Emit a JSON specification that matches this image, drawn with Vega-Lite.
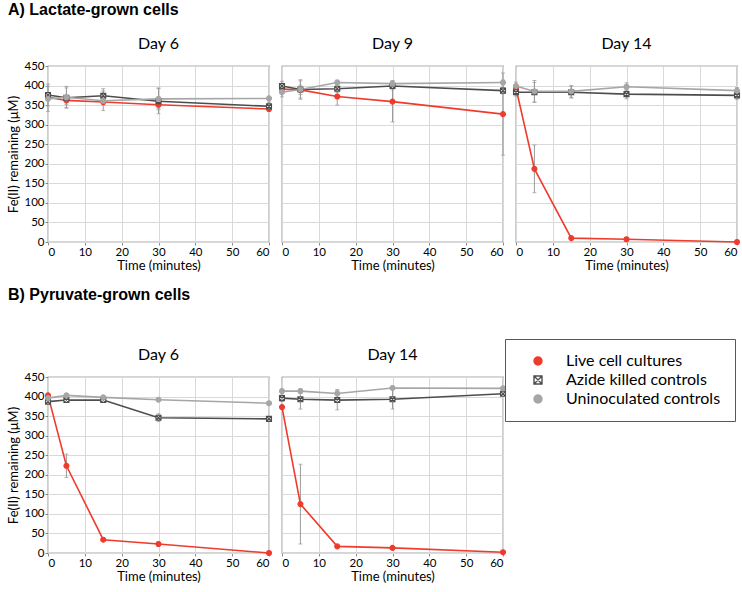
{
  "$schema": "https://vega.github.io/schema/vega-lite/v6.json",
  "padding": {"left": 7, "top": 2, "right": 1, "bottom": 2},
  "background": "white",
  "data": {"values": [
    {"cells":"Lactate","day":6,"series":"Live cell cultures","time":0,"value":370,"err":8},
    {"cells":"Lactate","day":6,"series":"Live cell cultures","time":5,"value":362,"err":10},
    {"cells":"Lactate","day":6,"series":"Live cell cultures","time":15,"value":358,"err":8},
    {"cells":"Lactate","day":6,"series":"Live cell cultures","time":30,"value":351,"err":10},
    {"cells":"Lactate","day":6,"series":"Live cell cultures","time":60,"value":340,"err":5},
    {"cells":"Lactate","day":6,"series":"Azide killed controls","time":0,"value":376,"err":28},
    {"cells":"Lactate","day":6,"series":"Azide killed controls","time":5,"value":369,"err":25},
    {"cells":"Lactate","day":6,"series":"Azide killed controls","time":15,"value":374,"err":18},
    {"cells":"Lactate","day":6,"series":"Azide killed controls","time":30,"value":360,"err":32},
    {"cells":"Lactate","day":6,"series":"Azide killed controls","time":60,"value":347,"err":10},
    {"cells":"Lactate","day":6,"series":"Uninoculated controls","time":0,"value":366,"err":32},
    {"cells":"Lactate","day":6,"series":"Uninoculated controls","time":5,"value":370,"err":28},
    {"cells":"Lactate","day":6,"series":"Uninoculated controls","time":15,"value":361,"err":25},
    {"cells":"Lactate","day":6,"series":"Uninoculated controls","time":30,"value":366,"err":28},
    {"cells":"Lactate","day":6,"series":"Uninoculated controls","time":60,"value":367,"err":6},
    {"cells":"Lactate","day":9,"series":"Live cell cultures","time":0,"value":391,"err":8},
    {"cells":"Lactate","day":9,"series":"Live cell cultures","time":5,"value":389,"err":12},
    {"cells":"Lactate","day":9,"series":"Live cell cultures","time":15,"value":372,"err":22},
    {"cells":"Lactate","day":9,"series":"Live cell cultures","time":30,"value":359,"err":52},
    {"cells":"Lactate","day":9,"series":"Live cell cultures","time":60,"value":327,"err":105},
    {"cells":"Lactate","day":9,"series":"Azide killed controls","time":0,"value":399,"err":12},
    {"cells":"Lactate","day":9,"series":"Azide killed controls","time":5,"value":390,"err":25},
    {"cells":"Lactate","day":9,"series":"Azide killed controls","time":15,"value":392,"err":10},
    {"cells":"Lactate","day":9,"series":"Azide killed controls","time":30,"value":399,"err":10},
    {"cells":"Lactate","day":9,"series":"Azide killed controls","time":60,"value":387,"err":8},
    {"cells":"Lactate","day":9,"series":"Uninoculated controls","time":0,"value":383,"err":12},
    {"cells":"Lactate","day":9,"series":"Uninoculated controls","time":5,"value":390,"err":22},
    {"cells":"Lactate","day":9,"series":"Uninoculated controls","time":15,"value":408,"err":6},
    {"cells":"Lactate","day":9,"series":"Uninoculated controls","time":30,"value":405,"err":8},
    {"cells":"Lactate","day":9,"series":"Uninoculated controls","time":60,"value":408,"err":6},
    {"cells":"Lactate","day":14,"series":"Live cell cultures","time":0,"value":393,"err":5},
    {"cells":"Lactate","day":14,"series":"Live cell cultures","time":5,"value":187,"err":61},
    {"cells":"Lactate","day":14,"series":"Live cell cultures","time":15,"value":10,"err":3},
    {"cells":"Lactate","day":14,"series":"Live cell cultures","time":30,"value":7,"err":2},
    {"cells":"Lactate","day":14,"series":"Live cell cultures","time":60,"value":0,"err":1},
    {"cells":"Lactate","day":14,"series":"Azide killed controls","time":0,"value":383,"err":10},
    {"cells":"Lactate","day":14,"series":"Azide killed controls","time":5,"value":383,"err":25},
    {"cells":"Lactate","day":14,"series":"Azide killed controls","time":15,"value":383,"err":15},
    {"cells":"Lactate","day":14,"series":"Azide killed controls","time":30,"value":378,"err":12},
    {"cells":"Lactate","day":14,"series":"Azide killed controls","time":60,"value":375,"err":10},
    {"cells":"Lactate","day":14,"series":"Uninoculated controls","time":0,"value":399,"err":10},
    {"cells":"Lactate","day":14,"series":"Uninoculated controls","time":5,"value":385,"err":28},
    {"cells":"Lactate","day":14,"series":"Uninoculated controls","time":15,"value":385,"err":15},
    {"cells":"Lactate","day":14,"series":"Uninoculated controls","time":30,"value":397,"err":10},
    {"cells":"Lactate","day":14,"series":"Uninoculated controls","time":60,"value":387,"err":8},
    {"cells":"Pyruvate","day":6,"series":"Live cell cultures","time":0,"value":403,"err":5},
    {"cells":"Pyruvate","day":6,"series":"Live cell cultures","time":5,"value":223,"err":30},
    {"cells":"Pyruvate","day":6,"series":"Live cell cultures","time":15,"value":34,"err":3},
    {"cells":"Pyruvate","day":6,"series":"Live cell cultures","time":30,"value":23,"err":2},
    {"cells":"Pyruvate","day":6,"series":"Live cell cultures","time":60,"value":0,"err":1},
    {"cells":"Pyruvate","day":6,"series":"Azide killed controls","time":0,"value":387,"err":6},
    {"cells":"Pyruvate","day":6,"series":"Azide killed controls","time":5,"value":391,"err":5},
    {"cells":"Pyruvate","day":6,"series":"Azide killed controls","time":15,"value":391,"err":5},
    {"cells":"Pyruvate","day":6,"series":"Azide killed controls","time":30,"value":346,"err":10},
    {"cells":"Pyruvate","day":6,"series":"Azide killed controls","time":60,"value":343,"err":5},
    {"cells":"Pyruvate","day":6,"series":"Uninoculated controls","time":0,"value":396,"err":5},
    {"cells":"Pyruvate","day":6,"series":"Uninoculated controls","time":5,"value":403,"err":4},
    {"cells":"Pyruvate","day":6,"series":"Uninoculated controls","time":15,"value":398,"err":4},
    {"cells":"Pyruvate","day":6,"series":"Uninoculated controls","time":30,"value":392,"err":3},
    {"cells":"Pyruvate","day":6,"series":"Uninoculated controls","time":60,"value":383,"err":3},
    {"cells":"Pyruvate","day":14,"series":"Live cell cultures","time":0,"value":373,"err":5},
    {"cells":"Pyruvate","day":14,"series":"Live cell cultures","time":5,"value":125,"err":102},
    {"cells":"Pyruvate","day":14,"series":"Live cell cultures","time":15,"value":17,"err":3},
    {"cells":"Pyruvate","day":14,"series":"Live cell cultures","time":30,"value":13,"err":2},
    {"cells":"Pyruvate","day":14,"series":"Live cell cultures","time":60,"value":2,"err":1},
    {"cells":"Pyruvate","day":14,"series":"Azide killed controls","time":0,"value":396,"err":8},
    {"cells":"Pyruvate","day":14,"series":"Azide killed controls","time":5,"value":393,"err":25},
    {"cells":"Pyruvate","day":14,"series":"Azide killed controls","time":15,"value":391,"err":25},
    {"cells":"Pyruvate","day":14,"series":"Azide killed controls","time":30,"value":393,"err":25},
    {"cells":"Pyruvate","day":14,"series":"Azide killed controls","time":60,"value":407,"err":5},
    {"cells":"Pyruvate","day":14,"series":"Uninoculated controls","time":0,"value":414,"err":5},
    {"cells":"Pyruvate","day":14,"series":"Uninoculated controls","time":5,"value":414,"err":6},
    {"cells":"Pyruvate","day":14,"series":"Uninoculated controls","time":15,"value":408,"err":10},
    {"cells":"Pyruvate","day":14,"series":"Uninoculated controls","time":30,"value":422,"err":4},
    {"cells":"Pyruvate","day":14,"series":"Uninoculated controls","time":60,"value":421,"err":4}
  ]},
  "resolve": {"scale": {"stroke": "shared", "fill": "shared", "shape": "shared"}, "legend": {"stroke": "shared", "fill": "shared", "shape": "shared"}},
  "spacing": 14,
  "vconcat": [
    {
      "title": {"text": "A) Lactate-grown cells", "anchor": "start", "font": "Liberation Sans", "fontSize": 16, "fontWeight": "bold", "offset": 18},
      "transform": [{"filter": "datum.cells === 'Lactate'"}],
      "facet": {"column": {"field": "day", "type": "ordinal", "title": null, "header": {"labelExpr": "'Day ' + datum.value"}}},
      "spacing": 13,
      "bounds": "flush",
      "spec": {
        "width": 221, "height": 176,
        "encoding": {
          "x": {"field": "time", "type": "quantitative", "scale": {"domain": [0, 60]}, "axis": {"values": [0,10,20,30,40,50,60], "title": "Time (minutes)"}},
          "y": {"field": "value", "type": "quantitative", "scale": {"domain": [0, 450]}, "axis": {"values": [0,50,100,150,200,250,300,350,400,450], "title": "Fe(II) remaining (μM)"}}
        },
        "layer": [
          {"mark": {"type": "errorbar", "ticks": {"size": 4}, "color": "#9a9a9a", "thickness": 1}, "encoding": {"yError": {"field": "err"}, "detail": {"field": "series"}}},
          {"mark": {"type": "line", "strokeWidth": 1.6}, "encoding": {"stroke": {"field": "series", "type": "nominal", "title": null, "scale": {"domain": ["Live cell cultures", "Azide killed controls", "Uninoculated controls"], "range": ["#ef3b2c", "#4d4d4d", "#a6a6a6"]},
            "legend": {"encode": {"symbols": {"update": {"shape": {"signal": "datum.value === 'Azide killed controls' ? 'M-3.75,0H-1 M1,0H3.75 M-1,-1H1V1H-1Z M-1,-1L1,1 M-1,1L1,-1' : 'M-3.75,0H-1 M1,0H3.75 M-1,0A1,1 0 1,0 1,0A1,1 0 1,0 -1,0Z'"}}}}}}}},
          {"mark": {"type": "point", "size": 24, "strokeWidth": 1.2, "opacity": 1}, "encoding": {
            "stroke": {"field": "series", "type": "nominal", "title": null},
            "fill": {"field": "series", "type": "nominal", "title": null, "scale": {"domain": ["Live cell cultures", "Azide killed controls", "Uninoculated controls"], "range": ["#ef3b2c", "#ffffff", "#a6a6a6"]}},
            "shape": {"field": "series", "type": "nominal", "title": null, "legend": null, "scale": {"domain": ["Live cell cultures", "Azide killed controls", "Uninoculated controls"], "range": ["circle", "M-1,-1H1V1H-1Z M-1,-1L1,1 M-1,1L1,-1", "circle"]}}
          }}
        ]
      }
    },
    {
      "title": {"text": "B) Pyruvate-grown cells", "anchor": "start", "font": "Liberation Sans", "fontSize": 16, "fontWeight": "bold", "offset": 44},
      "transform": [{"filter": "datum.cells === 'Pyruvate'"}],
      "facet": {"column": {"field": "day", "type": "ordinal", "title": null, "header": {"labelExpr": "'Day ' + datum.value"}}},
      "spacing": 13,
      "bounds": "flush",
      "spec": {
        "width": 221, "height": 176,
        "encoding": {
          "x": {"field": "time", "type": "quantitative", "scale": {"domain": [0, 60]}, "axis": {"values": [0,10,20,30,40,50,60], "title": "Time (minutes)"}},
          "y": {"field": "value", "type": "quantitative", "scale": {"domain": [0, 450]}, "axis": {"values": [0,50,100,150,200,250,300,350,400,450], "title": "Fe(II) remaining (μM)"}}
        },
        "layer": [
          {"mark": {"type": "errorbar", "ticks": {"size": 4}, "color": "#9a9a9a", "thickness": 1}, "encoding": {"yError": {"field": "err"}, "detail": {"field": "series"}}},
          {"mark": {"type": "line", "strokeWidth": 1.6}, "encoding": {"stroke": {"field": "series", "type": "nominal", "title": null}}},
          {"mark": {"type": "point", "size": 24, "strokeWidth": 1.2, "opacity": 1}, "encoding": {
            "stroke": {"field": "series", "type": "nominal", "title": null},
            "fill": {"field": "series", "type": "nominal", "title": null},
            "shape": {"field": "series", "type": "nominal", "title": null, "legend": null}
          }}
        ]
      }
    }
  ],
  "config": {
    "font": "Lato",
    "view": {"stroke": "#595959", "strokeWidth": 1.2},
    "axis": {"gridColor": "#d9d9d9", "domain": false, "tickColor": "#8c8c8c", "tickSize": 3, "labelFontSize": 11.5, "labelColor": "#000000", "titleFontSize": 13, "titleFontWeight": "normal", "titleColor": "#000000", "labelPadding": 1},
    "axisX": {"titlePadding": 2},
    "axisY": {"titlePadding": 3},
    "header": {"labelFontSize": 16, "labelColor": "#000000", "labelPadding": 14, "labelFont": "Lato"},
    "title": {"fontSize": 15, "fontWeight": "normal", "color": "#000000"},
    "legend": {
      "orient": "none", "legendX": 457, "legendY": 273, "strokeColor": "#595959", "padding": 14,
      "labelFontSize": 16, "labelFont": "Lato", "labelColor": "#000000", "symbolSize": 64, "rowPadding": 3, "labelLimit": 300,
      "symbolStrokeWidth": 1.4, "symbolOffset": 11, "labelOffset": 20,
      "symbolType": "M-3.75,0H-1 M1,0H3.75 M-1,0A1,1 0 1,0 1,0A1,1 0 1,0 -1,0Z"
    }
  }
}
